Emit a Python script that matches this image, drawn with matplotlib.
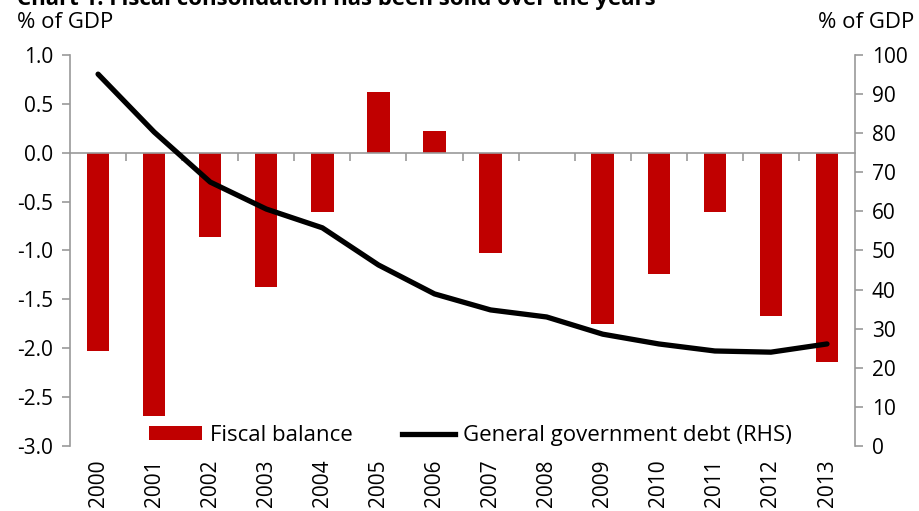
import matplotlib
matplotlib.use("Agg")
import matplotlib.pyplot as plt
import matplotlib.transforms as mtransforms
from matplotlib.patches import Patch
from matplotlib.lines import Line2D
import numpy as np

plt.rcParams["font.family"] = ["Open Sans", "DejaVu Sans"]

years = ["2000", "2001", "2002", "2003", "2004", "2005", "2006",
         "2007", "2008", "2009", "2010", "2011", "2012", "2013"]
fiscal_balance = [-2.03, -2.69, -0.86, -1.37, -0.61, 0.62, 0.22,
                  -1.03, 0.0, -1.75, -1.24, -0.61, -1.67, -2.14]
gov_debt = [95.1, 80.3, 67.5, 60.6, 55.8, 46.3, 38.9,
            34.8, 33.0, 28.6, 26.1, 24.3, 24.0, 26.1]

RED = "#c00000"
GREY = "#999999"

fig = plt.figure(figsize=(9.19, 5.11), dpi=100)
ax = fig.add_axes([0.0762, 0.1272, 0.8542, 0.7652])
ax2 = ax.twinx()

x = np.arange(len(years))
ax.bar(x, fiscal_balance, width=0.4, color=RED, zorder=2)
ax2.plot(x, gov_debt, color="black", lw=3.8, solid_capstyle="round", zorder=3)

ax.set_xlim(-0.5, len(years) - 0.5)
ax.set_ylim(-3.0, 1.0)
ax.set_yticks(np.arange(-3.0, 1.01, 0.5))
ax.set_yticklabels([f"{v:.1f}" for v in np.arange(-3.0, 1.01, 0.5)])
ax2.set_ylim(0, 100)
ax2.set_yticks(range(0, 101, 10))

# x axis sits on the zero line, ticks at category boundaries
ax.spines["bottom"].set_position(("data", 0))
ax.set_xticks(np.arange(0.5, len(years) - 0.5, 1.0))
ax.set_xticklabels([])
ax.tick_params(axis="x", direction="out", length=6, color=GREY, width=1.2)

trans = mtransforms.blended_transform_factory(ax.transData, ax.transAxes)
for xi, yr in zip(x, years):
    ax.text(xi, -0.035, yr, transform=trans, rotation=90, ha="center",
            va="top", fontsize=15)

for a in (ax, ax2):
    a.spines["top"].set_visible(False)
    for s in a.spines.values():
        s.set_color(GREY)
        s.set_linewidth(1.2)
ax.spines["right"].set_visible(False)
ax2.spines["left"].set_visible(False)
ax2.spines["bottom"].set_visible(False)

ax.tick_params(axis="y", direction="out", length=6, color=GREY, width=1.2,
               labelsize=15, pad=6)
ax2.tick_params(axis="y", direction="out", length=6, color=GREY, width=1.2,
                labelsize=15, pad=6)

fig.text(0.018, 0.955, "% of GDP", fontsize=16, ha="left", va="center")
fig.text(0.995, 0.955, "% of GDP", fontsize=16, ha="right", va="center")
fig.text(0.018, 1.0, "Chart 1: Fiscal consolidation has been solid over the years",
         fontsize=16, fontweight="bold", ha="left", va="center")

handles = [Patch(facecolor=RED, edgecolor="none"),
           Line2D([0], [0], color="black", lw=3.8)]
ax2.legend(handles, ["Fiscal balance", "General government debt (RHS)"],
           loc="lower center", bbox_to_anchor=(0.51, -0.04), ncol=2,
           frameon=False, fontsize=16, handlelength=2.4, handleheight=0.6,
           columnspacing=2.2, handletextpad=0.35, borderpad=0.2)

fig.savefig("out.png", dpi=100)
